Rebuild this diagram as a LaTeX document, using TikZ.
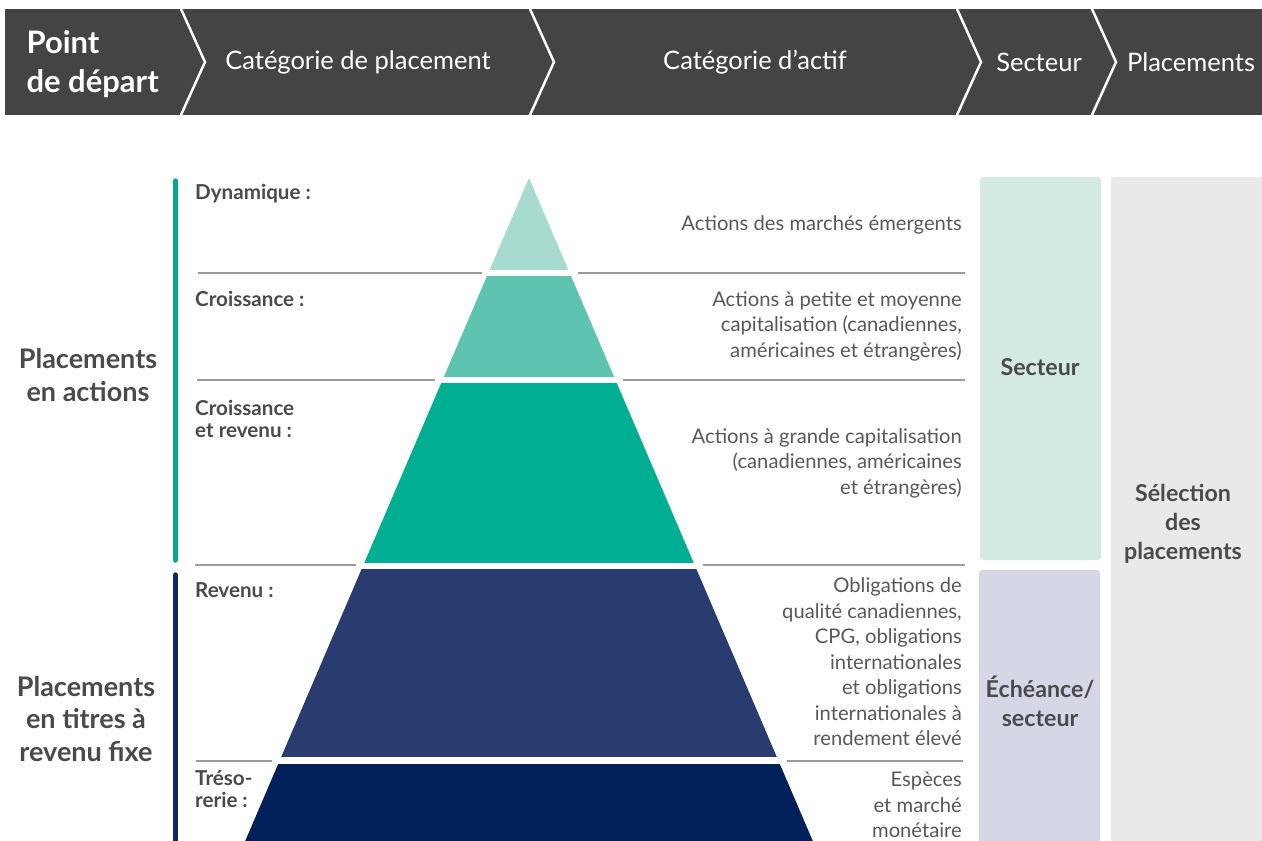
\documentclass[tikz,border=0pt]{standalone}
\usepackage{fontspec}
\setmainfont{Lato}
\usepackage{tikz}
\usetikzlibrary{positioning,calc}

\definecolor{bande}{HTML}{444446}
\definecolor{textgris}{HTML}{4A4A4C}
\definecolor{descgris}{HTML}{58585A}
\definecolor{traitgris}{HTML}{9C9C9E}
\definecolor{dynam}{HTML}{A7DBCF}
\definecolor{crois}{HTML}{5EC4B0}
\definecolor{croisrev}{HTML}{00AF92}
\definecolor{revenu}{HTML}{283C6F}
\definecolor{treso}{HTML}{02215A}
\definecolor{barreact}{HTML}{00A98F}
\definecolor{barrefixe}{HTML}{0B2A5F}
\definecolor{fondsect}{HTML}{D2EAE3}
\definecolor{fondech}{HTML}{D5D7E6}
\definecolor{fondsel}{HTML}{E9E9E9}

\begin{document}
\begin{tikzpicture}[x=1pt,y=-1pt,
  titre/.style={text=white,font=\fontsize{25.5}{30}\selectfont},
  niveau/.style={text=textgris,font=\bfseries\fontsize{20.6}{22.5}\selectfont,
    anchor=west,align=left,inner sep=0pt},
  desc/.style={text=descgris,font=\fontsize{20.2}{25.5}\selectfont,
    anchor=east,align=right,inner sep=0pt},
  groupe/.style={text=textgris,font=\bfseries\fontsize{27}{32.5}\selectfont,align=center},
  boite/.style={text=textgris,font=\bfseries\fontsize{23.2}{29}\selectfont,align=center},
  sep/.style={draw=white,line width=2.5pt},
  trait/.style={draw=traitgris,line width=1.3pt}]
\useasboundingbox (0,0) rectangle (1262,841);
%\draw[help lines,step=50] (0,0) grid (1262,841);

% bandeau du haut
\fill[bande] (5,9) rectangle (1262,115);
\draw[sep] (181,9) -- (205,62) -- (181,115);
\draw[sep] (530,9) -- (554,62) -- (530,115);
\draw[sep] (957,9) -- (981,62) -- (957,115);
\draw[sep] (1092,9) -- (1116,62) -- (1092,115);

\node[titre,font=\bfseries\fontsize{31}{39}\selectfont,anchor=west,align=left]
  (depart) at (23,64) {Point\\de départ};
\node[titre] (catplac) at (358,62) {Catégorie de placement};
\node[titre] (catactif) at (755,62) {Catégorie d’actif};
\node[titre] (secthaut) at (1039,62) {Secteur};
\node[titre] (plachaut) at (1191,62) {Placements};

% colonnes de droite
\fill[fondsect,rounded corners=3pt] (980,177) rectangle (1101,560);
\fill[fondech,rounded corners=3pt] (979,570) rectangle (1100,850);
\fill[fondsel,rounded corners=3pt] (1111,177) rectangle (1270,850);
\node[boite] (sect) at (1040,367) {Secteur};
\node[boite] (ech) at (1040,701) {Échéance/\\secteur};
\node[boite] (sel) at (1183,524) {Sélection\\des\\placements};

% pyramide
\begin{scope}
\clip (529,178) -- (245.2,841) -- (812.8,841) -- cycle;
\fill[dynam] (200,170) rectangle (900,270);
\fill[crois] (200,276) rectangle (900,377);
\fill[croisrev] (200,383) rectangle (900,563);
\fill[revenu] (200,569) rectangle (900,757);
\fill[treso] (200,764) rectangle (900,850);
\end{scope}

% traits de niveau
\draw[trait] (198,273) -- (482,273);
\draw[trait] (578,273) -- (965,273);
\draw[trait] (197,380) -- (435,380);
\draw[trait] (623,380) -- (965,380);
\draw[trait] (195,565) -- (356,565);
\draw[trait] (703,565) -- (965,565);
\draw[trait] (196,761) -- (272,761);
\draw[trait] (787,761) -- (963,761);

% barres de gauche
\draw[barreact,line width=5.5pt,line cap=round] (175.5,181) -- (175.5,560);
\draw[barrefixe,line width=5.5pt,line cap=round] (175.5,575) -- (175.5,860);

\node[groupe] (actions) at (88,375) {Placements\\en actions};
\node[groupe] (fixe) at (86,719) {Placements\\en titres à\\revenu fixe};

% niveaux
\node[niveau] (dyn) at (195,194) {Dynamique :};
\node[niveau] (cro) at (195,299) {Croissance :};
\node[niveau] (crr) at (195,419) {Croissance\\et revenu :};
\node[niveau] (rev) at (195,590) {Revenu :};
\node[niveau] (tre) at (195,789) {Tréso-\\rerie :};

% descriptions
\node[desc] (ddyn) at (962,225) {Actions des marchés émergents};
\node[desc] (dcro) at (962,326) {Actions à petite et moyenne\\capitalisation (canadiennes,\\américaines et étrangères)};
\node[desc] (dcrr) at (962,463) {Actions à grande capitalisation\\(canadiennes, américaines\\et étrangères)};
\node[desc] (drev) at (962,662) {Obligations de\\qualité canadiennes,\\CPG, obligations\\internationales\\et obligations\\internationales à\\rendement élevé};
\node[desc] (dtre) at (962,805) {Espèces\\et marché\\monétaire};
\end{tikzpicture}
\end{document}
